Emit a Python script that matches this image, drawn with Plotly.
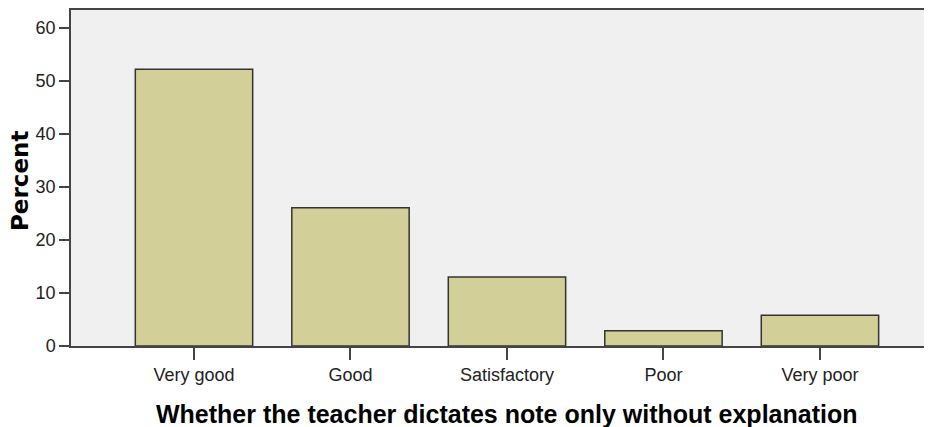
import plotly.graph_objects as go

categories = ["Very good", "Good", "Satisfactory", "Poor", "Very poor"]
percent = [52.2, 26.1, 13.0, 2.9, 5.8]
y_ticks = [0, 10, 20, 30, 40, 50, 60]

# The page body adds an 8px offset; the figure is sized to compensate.
W, H = 924, 419
L, R, T, B = 63, 0, 0, 81
plot_w = W - L - R
plot_h = H - T - B

fig = go.Figure()
fig.add_trace(go.Bar(
    x=list(range(len(categories))),
    y=percent,
    width=0.75,
    marker=dict(color="#D3CF98", line=dict(color="#333333", width=1.5)),
    hoverinfo="y",
))

fig.update_layout(
    width=W, height=H,
    margin=dict(l=L, r=R, t=T, b=B),
    paper_bgcolor="white",
    plot_bgcolor="#F0F0F0",
    font=dict(family="Liberation Sans, Arial, sans-serif", size=18, color="#222222"),
    showlegend=False,
    bargap=0.25,
    xaxis=dict(
        range=[-0.786, 4.716],
        tickmode="array",
        tickvals=list(range(len(categories))),
        ticktext=categories,
        ticks="outside", ticklen=12, tickwidth=1.5, tickcolor="#444444",
        showline=True, linecolor="#444444", linewidth=1.5, mirror=True,
        showgrid=False, zeroline=False,
        tickfont=dict(size=18),
    ),
    yaxis=dict(
        range=[0, 63.4],
        tickmode="array",
        tickvals=y_ticks,
        ticks="outside", ticklen=10, tickwidth=1.5, tickcolor="#444444",
        showline=True, linecolor="#444444", linewidth=1.5,
        showgrid=False, zeroline=False,
        tickfont=dict(size=18),
    ),
    annotations=[
        dict(text="<b>Percent</b>",
             x=(20 - 8 - L) / plot_w, y=(338 - (180 - 8)) / plot_h,
             xref="paper", yref="paper",
             showarrow=False, textangle=-90,
             font=dict(family="DejaVu Sans, sans-serif", size=23, color="#000000"),
             xanchor="center", yanchor="middle"),
        dict(text="<b>Whether the teacher dictates note only without explanation</b>",
             x=(507 - 8 - L) / plot_w, y=(338 - (414 - 8)) / plot_h,
             xref="paper", yref="paper", showarrow=False,
             font=dict(size=25, color="#000000"), xanchor="center", yanchor="middle"),
    ],
)

fig.write_html("out.html")
